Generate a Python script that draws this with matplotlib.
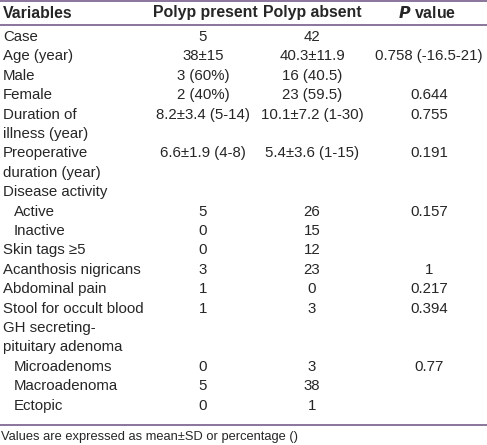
import matplotlib
matplotlib.use("Agg")
import matplotlib.pyplot as plt

variables = ["Case", "Age (year)", "Male", "Female", "Duration of\nillness (year)",
             "Preoperative\nduration (year)", "Disease activity", "Active", "Inactive",
             "Skin tags \u22655", "Acanthosis nigricans", "Abdominal pain",
             "Stool for occult blood", "GH secreting-\npituitary adenoma",
             "Microadenoms", "Macroadenoma", "Ectopic"]
indent = [0, 0, 0, 0, 0, 0, 0, 1, 1, 0, 0, 0, 0, 0, 1, 1, 1]
polyp_present = ["5", "38\u00b115", "3 (60%)", "2 (40%)", "8.2\u00b13.4 (5-14)",
                 "6.6\u00b11.9 (4-8)", "", "5", "0", "0", "3", "1", "1", "",
                 "0", "5", "0"]
polyp_absent = ["42", "40.3\u00b111.9", "16 (40.5)", "23 (59.5)", "10.1\u00b17.2 (1-30)",
                "5.4\u00b13.6 (1-15)", "", "26", "15", "12", "23", "0", "3", "",
                "3", "38", "1"]
p_values = ["", "0.758 (-16.5-21)", "", "0.644", "0.755", "0.191", "", "0.157", "",
            "", "1", "0.217", "0.394", "", "0.77", "", ""]
headers = ["Variables", "Polyp present", "Polyp absent", "$\\bfit{P}$ value"]
footnote = "Values are expressed as mean\u00b1SD or percentage ()"

W, H = 487, 445
fig = plt.figure(figsize=(W / 100, H / 100), dpi=100)
ax = fig.add_axes([0, 0, 1, 1])
ax.set_xlim(0, W)
ax.set_ylim(H, 0)
ax.axis("off")

font = "Liberation Sans"
fs = 10.8
hfs = 11.4
tc = "#262626"
lc = "#7f6a92"

col_x = [3, 203, 312, 429]
ax.plot([0, W], [1, 1], color=lc, lw=1.3)
ax.plot([0, W], [24.5, 24.5], color=lc, lw=1.3)
ax.plot([0, W], [425, 425], color=lc, lw=1.3)

hy = 13
ax.text(col_x[0], hy, headers[0], ha="left", va="center", fontsize=hfs,
        fontweight="bold", family=font, color=tc)
ax.text(205, hy, headers[1], ha="center", va="center", fontsize=hfs,
        fontweight="bold", family=font, color=tc)
ax.text(312.5, hy, headers[2], ha="center", va="center", fontsize=hfs,
        fontweight="bold", family=font, color=tc)
ax.text(427, hy, headers[3], ha="center", va="center", fontsize=hfs,
        fontweight="bold", family=font, color=tc)

y0 = 37
dy = 19.4
slot = 0
for i, var in enumerate(variables):
    y = y0 + slot * dy
    lines = var.split("\n")
    for j, ln in enumerate(lines):
        ax.text(col_x[0] + 11 * indent[i], y + j * dy, ln, ha="left", va="center",
                fontsize=fs, family=font, color=tc)
    ax.text(col_x[1], y, polyp_present[i], ha="center", va="center", fontsize=fs,
            family=font, color=tc)
    ax.text(col_x[2], y, polyp_absent[i], ha="center", va="center", fontsize=fs,
            family=font, color=tc)
    ax.text(col_x[3], y, p_values[i], ha="center", va="center", fontsize=fs,
            family=font, color=tc)
    slot += len(lines)

ax.text(1, 437, footnote, ha="left", va="center", fontsize=9.3, family=font, color=tc)

fig.savefig("out.png", dpi=100)
